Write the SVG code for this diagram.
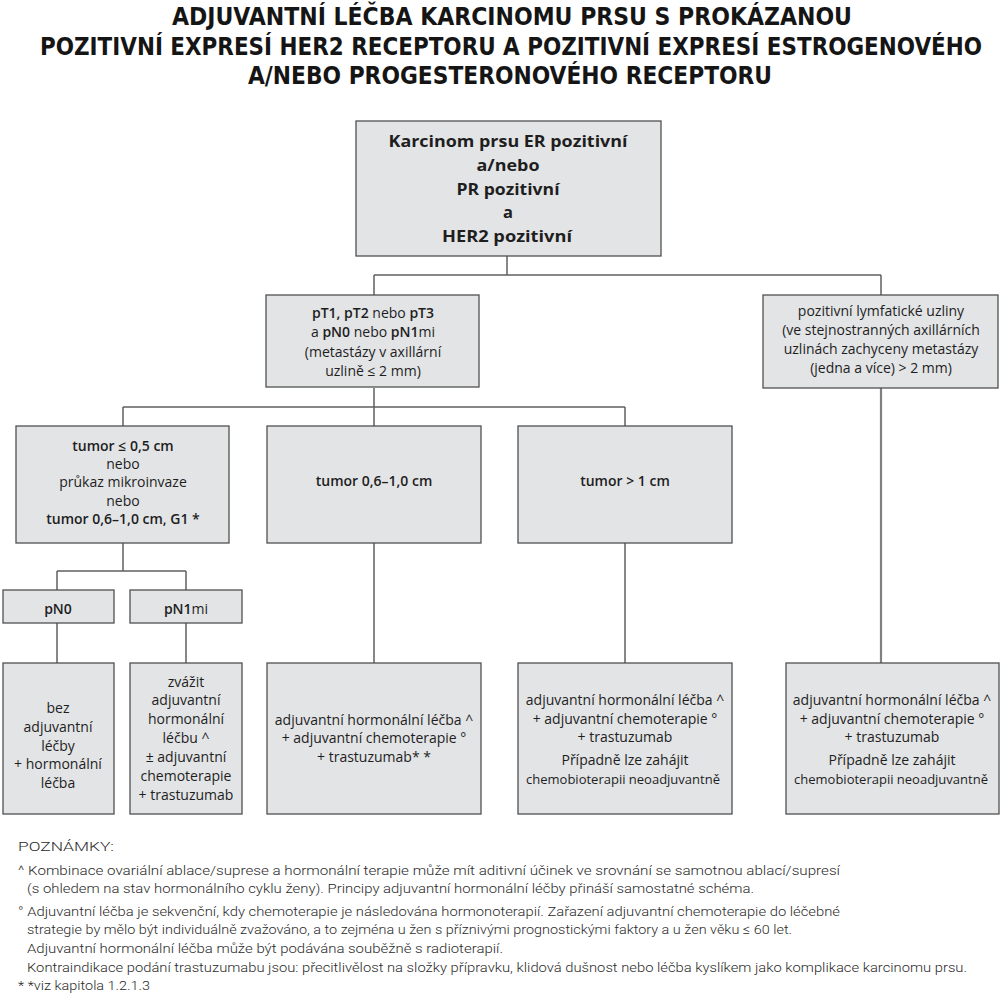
<svg xmlns="http://www.w3.org/2000/svg" width="1000" height="998" viewBox="0 0 1000 998">
<style>
.bg{fill:#ffffff}
.box{fill:#e3e4e6;stroke:#505050;stroke-width:1.3}
.title{font-family:"DejaVu Sans Condensed","DejaVu Sans",sans-serif;font-weight:bold;font-size:24px;fill:#151515;text-anchor:middle}
.t{font-family:"Open Sans",Roboto,"Liberation Sans",sans-serif;font-size:14px;fill:#1e1e1e;text-anchor:middle}
.ts{font-size:13px}
.tb{font-family:"Open Sans",Roboto,"Liberation Sans",sans-serif;font-size:16.5px;font-weight:bold;fill:#1e1e1e;text-anchor:middle}
.b{font-weight:600}
.note{font-family:Roboto,"Liberation Sans",sans-serif;font-size:13.5px;font-weight:300;fill:#2a2a2a}
.conn{fill:none;stroke:#606060;stroke-width:1.5}
.conn2{fill:none;stroke:#808080;stroke-width:2.2}
</style>
<rect class="bg" x="0" y="0" width="1000" height="998"/>
<g id="title">
<text class="title" x="512" y="25" textLength="680" lengthAdjust="spacingAndGlyphs">ADJUVANTNÍ LÉČBA KARCINOMU PRSU S PROKÁZANOU</text>
<text class="title" x="511" y="55" textLength="942" lengthAdjust="spacingAndGlyphs">POZITIVNÍ EXPRESÍ HER2 RECEPTORU A POZITIVNÍ EXPRESÍ ESTROGENOVÉHO</text>
<text class="title" x="510" y="84" textLength="524" lengthAdjust="spacingAndGlyphs">A/NEBO PROGESTERONOVÉHO RECEPTORU</text>
</g>
<g id="connectors">
<path class="conn" d="M507,256 V275 M374,275 H881 M374,275 V295 M881,275 V295"/>
<path class="conn" d="M374,388 V426 M123,407 H625 M123,407 V426 M625,407 V426"/>
<path class="conn" d="M123,543 V571 M57,571 H186 M57,571 V590 M186,571 V590"/>
<path class="conn" d="M57,623 V663 M186,623 V663 M374,543 V663 M625,543 V663"/>
<path class="conn2" d="M881,388 V663"/>
</g>
<g id="n-root">
<rect class="box" x="356" y="121" width="305" height="135"/>
<text class="tb" x="508" y="147" textLength="239" lengthAdjust="spacingAndGlyphs">Karcinom prsu ER pozitivní</text>
<text class="tb" x="508" y="171" textLength="63" lengthAdjust="spacingAndGlyphs">a/nebo</text>
<text class="tb" x="508" y="195" textLength="103" lengthAdjust="spacingAndGlyphs">PR pozitivní</text>
<text class="tb" x="508" y="218">a</text>
<text class="tb" x="507" y="242" textLength="130" lengthAdjust="spacingAndGlyphs">HER2 pozitivní</text>
</g>
<g id="n-pt">
<rect class="box" x="266" y="295" width="213" height="92"/>
<text class="t" x="373" y="318"><tspan class="b">pT1, pT2</tspan> nebo <tspan class="b">pT3</tspan></text>
<text class="t" x="373" y="337">a <tspan class="b">pN0</tspan> nebo <tspan class="b">pN1</tspan>mi</text>
<text class="t" x="373" y="357">(metastázy v axillární</text>
<text class="t" x="373" y="376">uzlině ≤ 2 mm)</text>
</g>
<g id="n-lymf">
<rect class="box" x="763" y="295" width="235" height="93"/>
<text class="t" x="881" y="316">pozitivní lymfatické uzliny</text>
<text class="t" x="881" y="335">(ve stejnostranných axillárních</text>
<text class="t" x="881" y="354">uzlinách zachyceny metastázy</text>
<text class="t" x="881" y="373">(jedna a více) &gt; 2 mm)</text>
</g>
<g id="n-t05">
<rect class="box" x="16" y="426" width="213" height="117"/>
<text class="t" x="123" y="451"><tspan class="b">tumor ≤ 0,5 cm</tspan></text>
<text class="t" x="123" y="469">nebo</text>
<text class="t" x="123" y="487">průkaz mikroinvaze</text>
<text class="t" x="123" y="506">nebo</text>
<text class="t" x="123" y="524"><tspan class="b">tumor 0,6–1,0 cm, G1 *</tspan></text>
</g>
<g id="n-t06">
<rect class="box" x="267" y="426" width="214" height="117"/>
<text class="t" x="374" y="486"><tspan class="b">tumor 0,6–1,0 cm</tspan></text>
</g>
<g id="n-t1">
<rect class="box" x="518" y="426" width="214" height="117"/>
<text class="t" x="625" y="486"><tspan class="b">tumor &gt; 1 cm</tspan></text>
</g>
<g id="n-pn0">
<rect class="box" x="3" y="590" width="111" height="33"/>
<text class="t" x="58" y="614"><tspan class="b">pN0</tspan></text>
</g>
<g id="n-pn1mi">
<rect class="box" x="130" y="590" width="112" height="33"/>
<text class="t" x="186" y="614"><tspan class="b">pN1</tspan>mi</text>
</g>
<g id="n-bez">
<rect class="box" x="3" y="663" width="111" height="151"/>
<text class="t" x="58" y="713">bez</text>
<text class="t" x="58" y="732">adjuvantní</text>
<text class="t" x="58" y="751">léčby</text>
<text class="t" x="58" y="769">+ hormonální</text>
<text class="t" x="58" y="788">léčba</text>
</g>
<g id="n-zvazit">
<rect class="box" x="130" y="663" width="112" height="151"/>
<text class="t" x="186" y="687">zvážit</text>
<text class="t" x="186" y="705">adjuvantní</text>
<text class="t" x="186" y="724">hormonální</text>
<text class="t" x="186" y="743">léčbu ^</text>
<text class="t" x="186" y="762">± adjuvantní</text>
<text class="t" x="186" y="781">chemoterapie</text>
<text class="t" x="186" y="800">+ trastuzumab</text>
</g>
<g id="n-lecba1">
<rect class="box" x="267" y="663" width="214" height="151"/>
<text class="t" x="374" y="725">adjuvantní hormonální léčba ^</text>
<text class="t" x="374" y="743">+ adjuvantní chemoterapie °</text>
<text class="t" x="374" y="762">+ trastuzumab* *</text>
</g>
<g id="n-lecba2">
<rect class="box" x="518" y="663" width="214" height="151"/>
<text class="t" x="625" y="705">adjuvantní hormonální léčba ^</text>
<text class="t" x="625" y="724">+ adjuvantní chemoterapie °</text>
<text class="t" x="625" y="742">+ trastuzumab</text>
<text class="t" x="625" y="765">Případně lze zahájit</text>
<text class="t ts" x="623" y="784">chemobioterapii neoadjuvantně</text>
</g>
<g id="n-lecba3">
<rect class="box" x="786" y="663" width="213" height="151"/>
<text class="t" x="892" y="705">adjuvantní hormonální léčba ^</text>
<text class="t" x="892" y="724">+ adjuvantní chemoterapie °</text>
<text class="t" x="892" y="742">+ trastuzumab</text>
<text class="t" x="892" y="765">Případně lze zahájit</text>
<text class="t ts" x="891" y="784">chemobioterapii neoadjuvantně</text>
</g>
<g id="notes">
<text class="note" x="18" y="851" textLength="96" lengthAdjust="spacingAndGlyphs">POZNÁMKY:</text>
<text class="note" x="18" y="875" textLength="822" lengthAdjust="spacingAndGlyphs">^ Kombinace ovariální ablace/suprese a hormonální terapie může mít aditivní účinek ve srovnání se samotnou ablací/supresí</text>
<text class="note" x="27" y="893" textLength="727" lengthAdjust="spacingAndGlyphs">(s ohledem na stav hormonálního cyklu ženy). Principy adjuvantní hormonální léčby přináší samostatné schéma.</text>
<text class="note" x="18" y="916" textLength="822" lengthAdjust="spacingAndGlyphs">° Adjuvantní léčba je sekvenční, kdy chemoterapie je následována hormonoterapií. Zařazení adjuvantní chemoterapie do léčebné</text>
<text class="note" x="27" y="934" textLength="765" lengthAdjust="spacingAndGlyphs">strategie by mělo být individuálně zvažováno, a to zejména u žen s příznivými prognostickými faktory a u žen věku ≤ 60 let.</text>
<text class="note" x="27" y="953" textLength="476" lengthAdjust="spacingAndGlyphs">Adjuvantní hormonální léčba může být podávána souběžně s radioterapií.</text>
<text class="note" x="27" y="972" textLength="940" lengthAdjust="spacingAndGlyphs">Kontraindikace podání trastuzumabu jsou: přecitlivělost na složky přípravku, klidová dušnost nebo léčba kyslíkem jako komplikace karcinomu prsu.</text>
<text class="note" x="18" y="990" textLength="132" lengthAdjust="spacingAndGlyphs">* *viz kapitola 1.2.1.3</text>
</g>
</svg>
